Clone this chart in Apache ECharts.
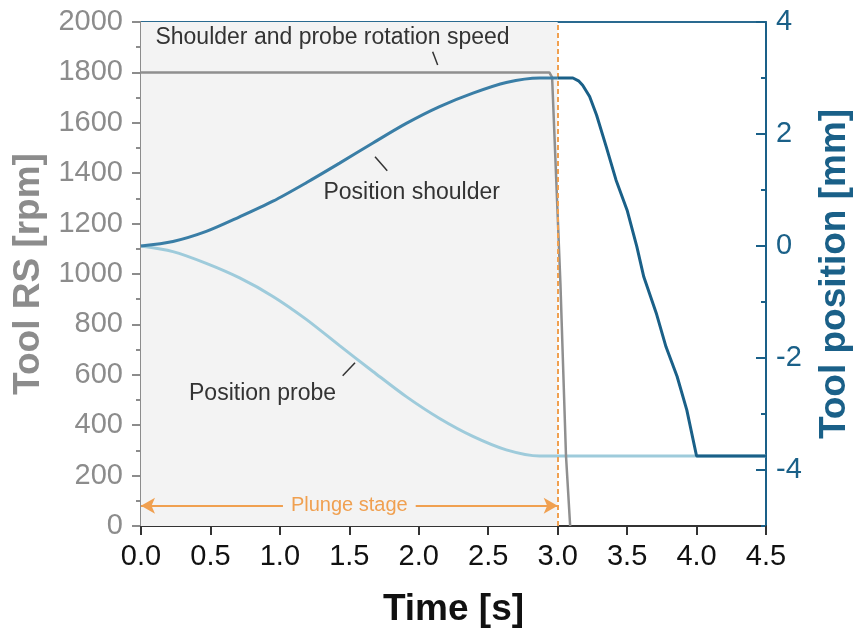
<!DOCTYPE html>
<html>
<head>
<meta charset="utf-8">
<script src="https://cdn.jsdelivr.net/npm/echarts@6/dist/echarts.min.js"></script>
<style>
  html, body { margin: 0; padding: 0; background: #fff; }
  #main { width: 854px; height: 632px; }
</style>
</head>
<body>
<div id="main"></div>
<script>
// rotation speed [rpm]
const speedTime = [0, 2.94, 2.96, 3.02, 3.06, 3.09];
const speedRpm  = [1800, 1800, 1780, 960, 278, 0];

// shoulder position [mm]
const shoulderTime = [0, 0.23, 0.47, 0.71, 0.95, 1.19, 1.43, 1.67, 1.91, 2.15, 2.39, 2.63, 2.87, 3.0, 3.11, 3.15,
                      3.18, 3.23, 3.28, 3.35, 3.42, 3.50, 3.57, 3.62, 3.71, 3.78, 3.86, 3.93, 4.0, 4.5];
const shoulderPos  = [0, 0.08, 0.26, 0.52, 0.80, 1.13, 1.48, 1.84, 2.19, 2.49, 2.73, 2.92, 3.0, 3.0, 3.0, 2.95,
                      2.87, 2.67, 2.34, 1.77, 1.18, 0.64, -0.01, -0.55, -1.20, -1.80, -2.33, -2.93, -3.75, -3.75];

// probe position [mm]
const probeTime = [0, 0.23, 0.47, 0.71, 0.95, 1.19, 1.43, 1.67, 1.91, 2.15, 2.39, 2.63, 2.87, 3.0, 4.5];
const probePos  = [0, -0.10, -0.31, -0.57, -0.90, -1.31, -1.78, -2.24, -2.69, -3.08, -3.40, -3.64, -3.75, -3.75, -3.75];

const plungeEnd = 3.0;
const plungeArrowRpm = 80;
const rightTicks = [-4, -2, 0, 2, 4];

// annotations: text position and leader line, in [time, rpm]
const notes = [
  { text: 'Shoulder and probe rotation speed', at: [1.379, 1936], line: [[2.10, 1882], [2.136, 1829]] },
  { text: 'Position shoulder', at: [1.949, 1323], line: [[1.685, 1465], [1.773, 1410]] },
  { text: 'Position probe', at: [0.875, 524], line: [[1.541, 648], [1.452, 596]] }
];

const FONT = "'Liberation Sans', Arial, sans-serif";
const GRAY = '#8c8c8c';
const BLUE = '#1a6088';
const ORANGE = '#f0a050';

const zip = (a, b) => a.map((v, i) => [v, b[i]]);
const shoulder = zip(shoulderTime, shoulderPos);

const chart = echarts.init(document.getElementById('main'));

chart.setOption({
    animation: false,
    grid: { left: 141, right: 88, top: 22, bottom: 106, outerBoundsMode: 'none' },
    xAxis: [{
        type: 'value',
        min: 0, max: 4.5, interval: 0.5,
        name: 'Time [s]',
        nameLocation: 'middle',
        nameGap: 65,
        nameTextStyle: { fontFamily: FONT, fontSize: 37, fontWeight: 'bold', color: '#111' },
        axisLine: { show: true, onZero: false, lineStyle: { color: '#333', width: 2 } },
        axisTick: { show: true, length: 9, lineStyle: { color: '#333', width: 2 } },
        axisLabel: { fontFamily: FONT, fontSize: 29, color: '#111', margin: 16, formatter: v => v.toFixed(1) },
        splitLine: { show: false }
    }, {
        type: 'value', position: 'top', min: 0, max: 4.5,
        axisLine: { show: true, onZero: false, lineStyle: { color: '#2a6a90', width: 2 } },
        axisTick: { show: false }, axisLabel: { show: false }, splitLine: { show: false }
    }],
    yAxis: [{
        type: 'value',
        min: 0, max: 2000, interval: 200,
        position: 'left',
        name: 'Tool RS [rpm]',
        nameLocation: 'middle',
        nameGap: 86,
        nameTextStyle: { fontFamily: FONT, fontSize: 37, fontWeight: 'bold', color: GRAY },
        axisLine: { show: true, onZero: false, lineStyle: { color: GRAY, width: 2 } },
        axisTick: { show: true, length: 9, lineStyle: { color: GRAY, width: 2 } },
        minorTick: { show: true, splitNumber: 2, length: 5, lineStyle: { color: GRAY, width: 2 } },
        axisLabel: { fontFamily: FONT, fontSize: 29, color: GRAY, margin: 18, formatter: v => String(v) },
        splitLine: { show: false }
    }, {
        type: 'value',
        min: -5, max: 4,
        position: 'right',
        name: 'Tool position [mm]',
        nameLocation: 'middle',
        nameGap: 50,
        nameTextStyle: { fontFamily: FONT, fontSize: 37, fontWeight: 'bold', color: BLUE },
        axisLine: { show: true, onZero: false, lineStyle: { color: BLUE, width: 2 } },
        axisTick: { show: true, inside: true, length: 10, customValues: rightTicks, lineStyle: { color: BLUE, width: 2 } },
        axisLabel: { fontFamily: FONT, fontSize: 29, color: BLUE, margin: 10, customValues: rightTicks },
        splitLine: { show: false }
    }, {
        // minor ticks of the right axis
        type: 'value',
        min: -5, max: 4, interval: 1,
        position: 'right',
        offset: 0,
        axisLine: { show: false, onZero: false },
        axisTick: { show: true, inside: true, length: 5, lineStyle: { color: BLUE, width: 2 } },
        axisLabel: { show: false },
        splitLine: { show: false }
    }],
    series: [{
        name: 'Probe',
        type: 'line',
        yAxisIndex: 1,
        data: zip(probeTime, probePos),
        smooth: 0.3,
        symbol: 'none',
        lineStyle: { color: '#9ecbdb', width: 3 },
        z: 3,
        markArea: {
            silent: true,
            itemStyle: { color: '#f3f3f3' },
            data: [[{ xAxis: 0 }, { xAxis: plungeEnd }]]
        }
    }, {
        name: 'Speed',
        type: 'line',
        yAxisIndex: 0,
        data: zip(speedTime, speedRpm),
        symbol: 'none',
        lineStyle: { color: '#8f8f8f', width: 2.5 },
        z: 4,
        markLine: {
            silent: true,
            symbol: ['arrow', 'arrow'],
            symbolSize: [12, 14],
            data: [
                [{ coord: [0, plungeArrowRpm] }, { coord: [plungeEnd, plungeArrowRpm] }]
            ],
            lineStyle: { color: ORANGE, width: 2, type: 'solid' },
            label: {
                show: true, position: 'middle', distance: 0, verticalAlign: 'middle',
                formatter: 'Plunge stage',
                fontFamily: FONT, fontSize: 20, color: ORANGE,
                backgroundColor: '#f3f3f3', padding: [0, 8]
            }
        }
    }, {
        name: 'Shoulder plunge',
        type: 'line',
        yAxisIndex: 1,
        data: shoulder.filter(p => p[0] <= plungeEnd),
        smooth: 0.3,
        symbol: 'none',
        lineStyle: { color: '#3a7ea6', width: 3 },
        z: 5
    }, {
        name: 'Shoulder retract',
        type: 'line',
        yAxisIndex: 1,
        data: shoulder.filter(p => p[0] >= plungeEnd),
        symbol: 'none',
        lineStyle: { color: BLUE, width: 3 },
        z: 5,
        markLine: {
            silent: true,
            symbol: 'none',
            data: [{ xAxis: plungeEnd }],
            lineStyle: { color: ORANGE, width: 2, type: [5, 3] },
            label: { show: false }
        }
    }]
});

// annotation texts and leader lines, placed through the chart's own scales
const px = p => chart.convertToPixel({ xAxisIndex: 0, yAxisIndex: 0 }, p);
const graphics = [];
notes.forEach(n => {
    const c = px(n.at);
    graphics.push({
        type: 'text', x: c[0], y: c[1], z: 10,
        style: { text: n.text, fontFamily: FONT, fontSize: 23, fill: '#333', align: 'center', verticalAlign: 'middle' }
    });
    const a = px(n.line[0]), b = px(n.line[1]);
    graphics.push({
        type: 'line', z: 10,
        shape: { x1: a[0], y1: a[1], x2: b[0], y2: b[1] },
        style: { stroke: '#333', lineWidth: 1.5 }
    });
});
chart.setOption({ graphic: graphics });
</script>
</body>
</html>
